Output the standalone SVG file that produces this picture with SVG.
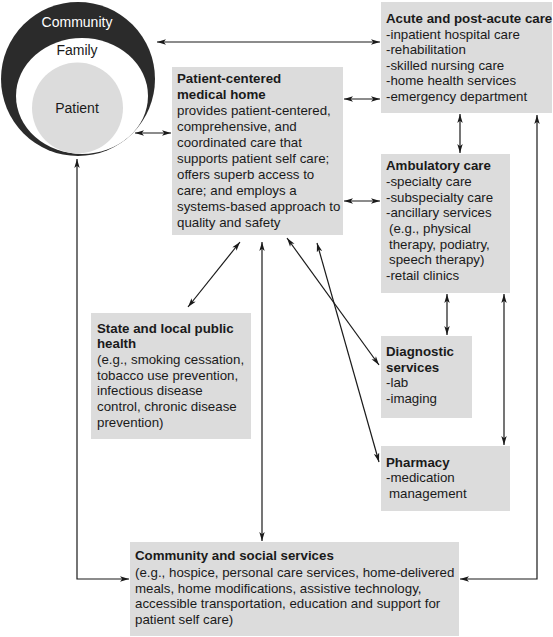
<svg xmlns="http://www.w3.org/2000/svg" width="553" height="637" viewBox="0 0 553 637">
<defs>
<style>
.box{fill:#dcdcdc;}
text{font-family:"Liberation Sans",Arial,sans-serif;font-size:13.3px;fill:#1a1a1a;}
.b{font-weight:bold;}
.c{text-anchor:middle;font-size:14px;}
.w{fill:#ffffff;}
.ln{stroke:#1a1a1a;stroke-width:1.2;fill:none;marker-start:url(#ah);marker-end:url(#ah);}
</style>
<marker id="ah" viewBox="0 0 10 6" refX="10" refY="3" markerWidth="9" markerHeight="6" markerUnits="userSpaceOnUse" orient="auto-start-reverse">
<path d="M0,0 L10,3 L0,6 L2.5,3 z" fill="#1a1a1a"/>
</marker>
</defs>
<rect width="553" height="637" fill="#ffffff"/>

<g id="circles">
<circle cx="78" cy="79" r="77" fill="#2b2b2b"/>
<ellipse cx="82" cy="96" rx="66" ry="58" fill="#ffffff"/>
<circle cx="77.5" cy="108" r="45.5" fill="#dcdcdc"/>
<text class="c w" x="77" y="27">Community</text>
<text class="c" x="77" y="55">Family</text>
<text class="c" x="77" y="113">Patient</text>
</g>

<g id="pcmh">
<rect class="box" x="172" y="67" width="171" height="168"/>
<text class="b" x="177" y="83">Patient-centered</text>
<text class="b" x="177" y="99">medical home</text>
<text x="177" y="115">provides patient-centered,</text>
<text x="177" y="131">comprehensive, and</text>
<text x="177" y="147">coordinated care that</text>
<text x="177" y="163">supports patient self care;</text>
<text x="177" y="179">offers superb access to</text>
<text x="177" y="195">care; and employs a</text>
<text x="177" y="211">systems-based approach to</text>
<text x="177" y="227">quality and safety</text>
</g>

<g id="acute">
<rect class="box" x="381" y="2" width="171" height="111"/>
<text class="b" x="386" y="23">Acute and post-acute care</text>
<text x="386" y="38.6">-inpatient hospital care</text>
<text x="386" y="54.2">-rehabilitation</text>
<text x="386" y="69.8">-skilled nursing care</text>
<text x="386" y="85.4">-home health services</text>
<text x="386" y="101">-emergency department</text>
</g>

<g id="ambulatory">
<rect class="box" x="381" y="154" width="129" height="139"/>
<text class="b" x="386" y="170">Ambulatory care</text>
<text x="386" y="186">-specialty care</text>
<text x="386" y="201.5">-subspecialty care</text>
<text x="386" y="217">-ancillary services</text>
<text x="389" y="233">(e.g., physical</text>
<text x="389" y="248.5">therapy, podiatry,</text>
<text x="389" y="264">speech therapy)</text>
<text x="386" y="280">-retail clinics</text>
</g>

<g id="diagnostic">
<rect class="box" x="381" y="336" width="91" height="82"/>
<text class="b" x="386" y="356">Diagnostic</text>
<text class="b" x="386" y="372">services</text>
<text x="386" y="387">-lab</text>
<text x="386" y="403">-imaging</text>
</g>

<g id="pharmacy">
<rect class="box" x="381" y="446" width="129" height="65"/>
<text class="b" x="386" y="467">Pharmacy</text>
<text x="386" y="482">-medication</text>
<text x="389" y="498">management</text>
</g>

<g id="public-health">
<rect class="box" x="91" y="313" width="160" height="126"/>
<text class="b" x="97" y="333">State and local public</text>
<text class="b" x="97" y="348">health</text>
<text x="97" y="364">(e.g., smoking cessation,</text>
<text x="97" y="380">tobacco use prevention,</text>
<text x="97" y="395">infectious disease</text>
<text x="97" y="411">control, chronic disease</text>
<text x="97" y="427">prevention)</text>
</g>

<g id="community-services">
<rect class="box" x="130" y="542" width="329" height="94"/>
<text class="b" x="135" y="560">Community and social services</text>
<text x="135" y="577">(e.g., hospice, personal care services, home-delivered</text>
<text x="135" y="593">meals, home modifications, assistive technology,</text>
<text x="135" y="608">accessible transportation, education and support for</text>
<text x="135" y="624">patient self care)</text>
</g>

<g id="connectors">
<line class="ln" x1="157" y1="42" x2="380" y2="42"/>
<line class="ln" x1="135" y1="133" x2="171" y2="133"/>
<line class="ln" x1="344" y1="99" x2="380" y2="99"/>
<line class="ln" x1="460" y1="114" x2="460" y2="153"/>
<line class="ln" x1="344" y1="201" x2="380" y2="201"/>
<line class="ln" x1="240" y1="242" x2="188" y2="307"/>
<line class="ln" x1="262" y1="242" x2="262" y2="541"/>
<line class="ln" x1="287" y1="238" x2="379" y2="365"/>
<line class="ln" x1="317" y1="243" x2="379" y2="462"/>
<line class="ln" x1="447" y1="294" x2="447" y2="335"/>
<line class="ln" x1="504" y1="294" x2="504" y2="445"/>
<polyline class="ln" points="537,115 537,579 460,579"/>
<polyline class="ln" points="77,159 77,579 129,579"/>
</g>
</svg>
